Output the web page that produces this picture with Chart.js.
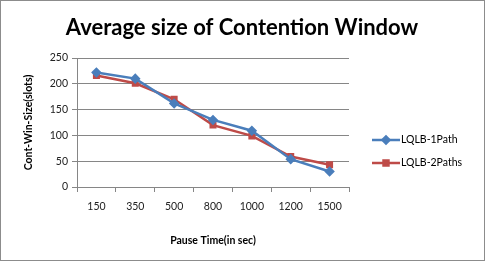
<!DOCTYPE html>
<html>
<head>
<meta charset="utf-8">
<script src="https://cdn.jsdelivr.net/npm/chart.js"></script>
<style>
  html, body { margin: 0; padding: 0; background: #fff; }
  #wrap { width: 485px; height: 261px; position: relative; }
</style>
</head>
<body>
<div id="wrap"><canvas id="c" width="485" height="261"></canvas></div>
<script>
// values
const pauseTimes = ['150', '350', '500', '800', '1000', '1200', '1500'];
const onePath = [222, 210, 162, 130, 109, 54, 30];
const twoPaths = [216, 201, 170, 120, 99, 59, 43];
const yTicks = [0, 50, 100, 150, 200, 250];

const FONT = 'Lato, "Open Sans", sans-serif';
const BLUE = '#4A7EBB';
const RED = '#BE4B48';
const GRID = '#868686';

// title, legend and frame drawn by hand so they sit where the reference has them
const decor = {
  id: 'decor',
  afterDraw(chart) {
    const ctx = chart.ctx;
    ctx.save();
    ctx.strokeStyle = '#8c8c8c';
    ctx.lineWidth = 1;
    ctx.strokeRect(0.5, 0.5, 484, 260);

    ctx.fillStyle = '#000';
    ctx.font = 'bold 22px ' + FONT;
    ctx.textAlign = 'center';
    ctx.textBaseline = 'middle';
    ctx.fillText('Average size of Contention Window', 242, 28);

    const items = [
      { label: 'LQLB-1Path', color: BLUE, style: 'rectRot', y: 140 },
      { label: 'LQLB-2Paths', color: RED, style: 'rect', y: 163 }
    ];
    ctx.font = '10.5px ' + FONT;
    ctx.textAlign = 'left';
    items.forEach(it => {
      ctx.strokeStyle = it.color;
      ctx.lineWidth = 2.5;
      ctx.beginPath();
      ctx.moveTo(372, it.y);
      ctx.lineTo(400, it.y);
      ctx.stroke();
      ctx.fillStyle = it.color;
      Chart.helpers.drawPoint(ctx, { pointStyle: it.style, radius: 3.5, borderWidth: 1 }, 386, it.y);
      ctx.fillStyle = '#000';
      ctx.fillText(it.label, 401, it.y);
    });
    ctx.restore();
  }
};

new Chart(document.getElementById('c'), {
  type: 'line',
  data: {
    labels: pauseTimes,
    datasets: [
      {
        label: 'LQLB-1Path', data: onePath,
        borderColor: BLUE, backgroundColor: BLUE, borderWidth: 2.5,
        pointStyle: 'rectRot', pointRadius: 3.5, tension: 0
      },
      {
        label: 'LQLB-2Paths', data: twoPaths,
        borderColor: RED, backgroundColor: RED, borderWidth: 2.5,
        pointStyle: 'rect', pointRadius: 3.2, tension: 0
      }
    ]
  },
  options: {
    responsive: false,
    animation: false,
    layout: { padding: { top: 58, right: 136, left: 0, bottom: 0 } },
    plugins: { legend: { display: false }, title: { display: false }, tooltip: { enabled: false } },
    scales: {
      x: {
        offset: true,
        grid: { display: true, drawOnChartArea: false, drawTicks: true, tickLength: 5, offset: true, color: GRID },
        border: { display: true, color: GRID },
        ticks: { color: '#222', font: { family: FONT, size: 10.5 }, padding: 8, maxRotation: 0 },
        title: { display: true, text: 'Pause Time(in sec)', color: '#000', font: { family: FONT, size: 10.5, weight: 'bold' }, padding: { top: 0, bottom: 14 } },
        afterFit: s => { s.height = 74; }
      },
      y: {
        min: 0, max: 250,
        afterBuildTicks: s => { s.ticks = yTicks.map(v => ({ value: v })); },
        grid: { color: GRID, tickLength: 5 },
        border: { display: true, color: GRID },
        ticks: { color: '#222', font: { family: FONT, size: 10.5 }, padding: 4 },
        title: { display: true, text: 'Cont-Win-Size(slots)', color: '#000', font: { family: FONT, size: 10.5, weight: 'bold' }, padding: { top: 22, bottom: 0 } },
        afterFit: s => { s.width = 77; }
      }
    }
  },
  plugins: [decor]
});
</script>
</body>
</html>
